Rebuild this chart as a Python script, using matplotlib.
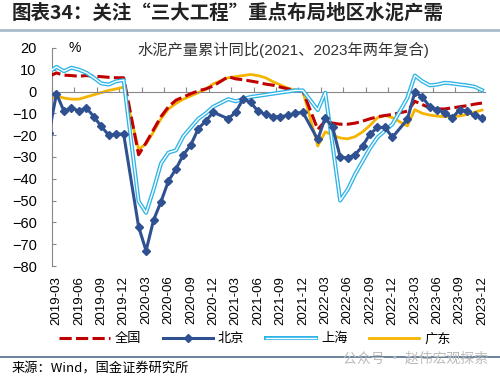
import numpy as np
import pandas as pd
import matplotlib
matplotlib.use('Agg')
import matplotlib.pyplot as plt
from matplotlib.lines import Line2D

plt.rcParams['font.family'] = ['Liberation Sans', 'Noto Sans CJK SC', 'DejaVu Sans']
CJK = ['Noto Sans CJK SC', 'DejaVu Sans']

# 月度, 2019-02 ~ 2023-12 (1月无数据)
MONTHS = [str(p) for p in pd.period_range('2019-02', '2023-12', freq='M')]

# 水泥产量累计同比, %
NATIONAL = [7.0, 8.5, 7.5, 7.3, 7.0, 7.3, 7.0, 6.8, 6.5, 6.3, 6.3,
            None, -29.0, -23.5, -17.5, -11.5, -7.0, -4.0, -2.5, -1.0, 0.3, 1.2, 2.5,
            None, 6.8, 5.8, 5.4, 4.8, 4.2, 3.4, 2.9, 2.0, 1.2, 0.6, 0.2,
            None, -17.4, -13.5, -14.5, -15.0, -15.0, -14.5, -13.6, -12.5, -11.6, -11.0, -10.5,
            None, -9.0, -4.5, -6.0, -7.5, -8.0, -8.0, -7.5, -7.0, -6.5, -5.8, -5.3]
BEIJING = [-19.0, -1.0, -9.0, -7.5, -9.0, -7.5, -11.5, -16.0, -20.0, -19.5, -19.5,
           None, -62.0, -73.0, -59.0, -50.5, -41.0, -35.5, -29.0, -24.5, -17.0, -13.5, -9.5,
           None, -12.5, -9.5, -3.5, -5.0, -9.0, -10.5, -11.5, -11.5, -11.0, -10.0, -9.5,
           None, -22.0, -12.0, -16.5, -30.0, -30.5, -29.0, -25.0, -19.5, -16.5, -16.5, -21.0,
           None, -12.8, -0.3, -2.5, -7.0, -8.3, -9.7, -12.0, -8.5, -9.0, -11.0, -12.0]
SHANGHAI = [9.0, 11.3, 9.3, 10.9, 10.0, 8.6, 6.3, 3.7, 3.2, 4.7, 5.2,
            None, -50.3, -55.6, -45.0, -33.0, -28.0, -27.0, -20.5, -16.5, -12.5, -10.0, -7.0,
            None, -3.5, -4.5, -3.5, -2.5, -2.0, -1.5, -1.0, -0.5, 0.0, 0.5, 0.5,
            None, -8.5, -0.5, -25.0, -50.0, -45.0, -38.0, -32.0, -26.0, -21.0, -18.0, -15.0,
            None, -3.0, 7.3, 4.7, 2.8, 3.2, 4.0, 3.7, 3.2, 2.8, 2.2, 0.6]
GUANGDONG = [-4.5, -2.0, -3.0, -3.5, -3.5, -2.5, -1.5, -0.5, 0.5, 1.2, 2.0,
             None, -26.5, -24.0, -18.5, -12.5, -8.0, -5.5, -3.5, -2.0, -0.5, 1.0, 3.5,
             None, 6.3, 6.8, 7.3, 7.8, 7.3, 6.3, 4.5, 3.0, 1.5, 0.5, 0.2,
             None, -25.0, -18.5, -20.0, -21.3, -21.7, -20.7, -18.5, -15.5, -12.0, -11.0, -12.0,
             None, -15.8, -8.3, -10.0, -10.8, -11.3, -11.5, -11.5, -11.2, -10.5, -9.5, -8.5]


def series(vals):
    y = np.array([np.nan if v is None else v for v in vals], dtype=float)
    x = np.arange(len(y))
    m = np.isfinite(y)
    return x[m], y[m]


fig = plt.figure(figsize=(5, 3.8), dpi=100)
ax = fig.add_axes([0.104, 0.30, 0.866, 0.574])

x, y = series(GUANGDONG)
ax.plot(x, y, color='#f5b400', lw=2.0, zorder=2)
x, y = series(NATIONAL)
ax.plot(x, y, color='#c00000', lw=2.2, dashes=(4, 1.4), zorder=3)
x, y = series(SHANGHAI)
ax.plot(x, y, color='#2cb4e6', lw=2.9, zorder=4)
ax.plot(x, y, color='white', lw=1.0, zorder=4.1)
x, y = series(BEIJING)
ax.plot(x, y, color='#2f5091', lw=2.2, marker='D', ms=4.2, zorder=5)

ax.set_xlim(0.6, 58.4)
ax.set_ylim(-80, 20)
ax.set_yticks(range(-80, 21, 10))
ax.tick_params(axis='y', direction='in', length=3, pad=11, labelsize=10.5, color='#888888')

for s in ['top', 'right']:
    ax.spines[s].set_visible(False)
ax.spines['left'].set_color('#888888')
ax.spines['bottom'].set_color('#888888')
ax.spines['bottom'].set_position(('data', 0))

lab_idx = list(range(1, len(MONTHS), 3))
ax.set_xticks([i - 0.6 for i in lab_idx])
ax.tick_params(axis='x', direction='in', length=3.5, color='#888888', labelbottom=False)

sec = ax.secondary_xaxis('bottom')
sec.set_xticks(lab_idx, labels=[MONTHS[i] for i in lab_idx], rotation=90)
sec.spines['bottom'].set_visible(False)
sec.tick_params(length=0, pad=7, labelsize=9.5)

ax.text(0.037, 1.0, '%', transform=ax.transAxes, va='center', fontsize=10)
fig.text(0.566, 0.868, '水泥产量累计同比(2021、2023年两年复合)', ha='center', va='center',
         fontsize=11, color='#333333')

fig.text(0.024, 0.966, '图表34：关注“三大工程”重点布局地区水泥产需', family=CJK,
         fontsize=14, fontweight='bold', va='center', color='#222222')
fig.add_artist(Line2D([0, 1], [0.922, 0.922], transform=fig.transFigure, color='#a9bccb', lw=2))

handles = [Line2D([], [], color='#c00000', lw=2.2, dashes=(4, 1.4)),
           Line2D([], [], color='#2f5091', lw=2.2, marker='D', ms=4.2, markevery=[1]),
           (Line2D([], [], color='#2cb4e6', lw=2.9), Line2D([], [], color='white', lw=1.0)),
           Line2D([], [], color='#f5b400', lw=2.0)]
fig.legend(handles, ['全国', '北京', '上海', '广东'], loc='center', bbox_to_anchor=(0.51, 0.108),
           ncol=4, frameon=False, handlelength=3.8, columnspacing=1.6, handletextpad=0.4,
           prop={'family': CJK, 'size': 9.5})

fig.add_artist(Line2D([0, 1], [0.061, 0.061], transform=fig.transFigure, color='#4f6d8c', lw=1.2))
fig.text(0.024, 0.028, '来源：Wind，国金证券研究所', family=CJK, fontsize=9.5, va='center')
fig.text(0.686, 0.055, '公众号 · 赵伟宏观探索', family=CJK, fontsize=10, va='center', color='#bbbbbb')

fig.savefig('out.png', dpi=100)
